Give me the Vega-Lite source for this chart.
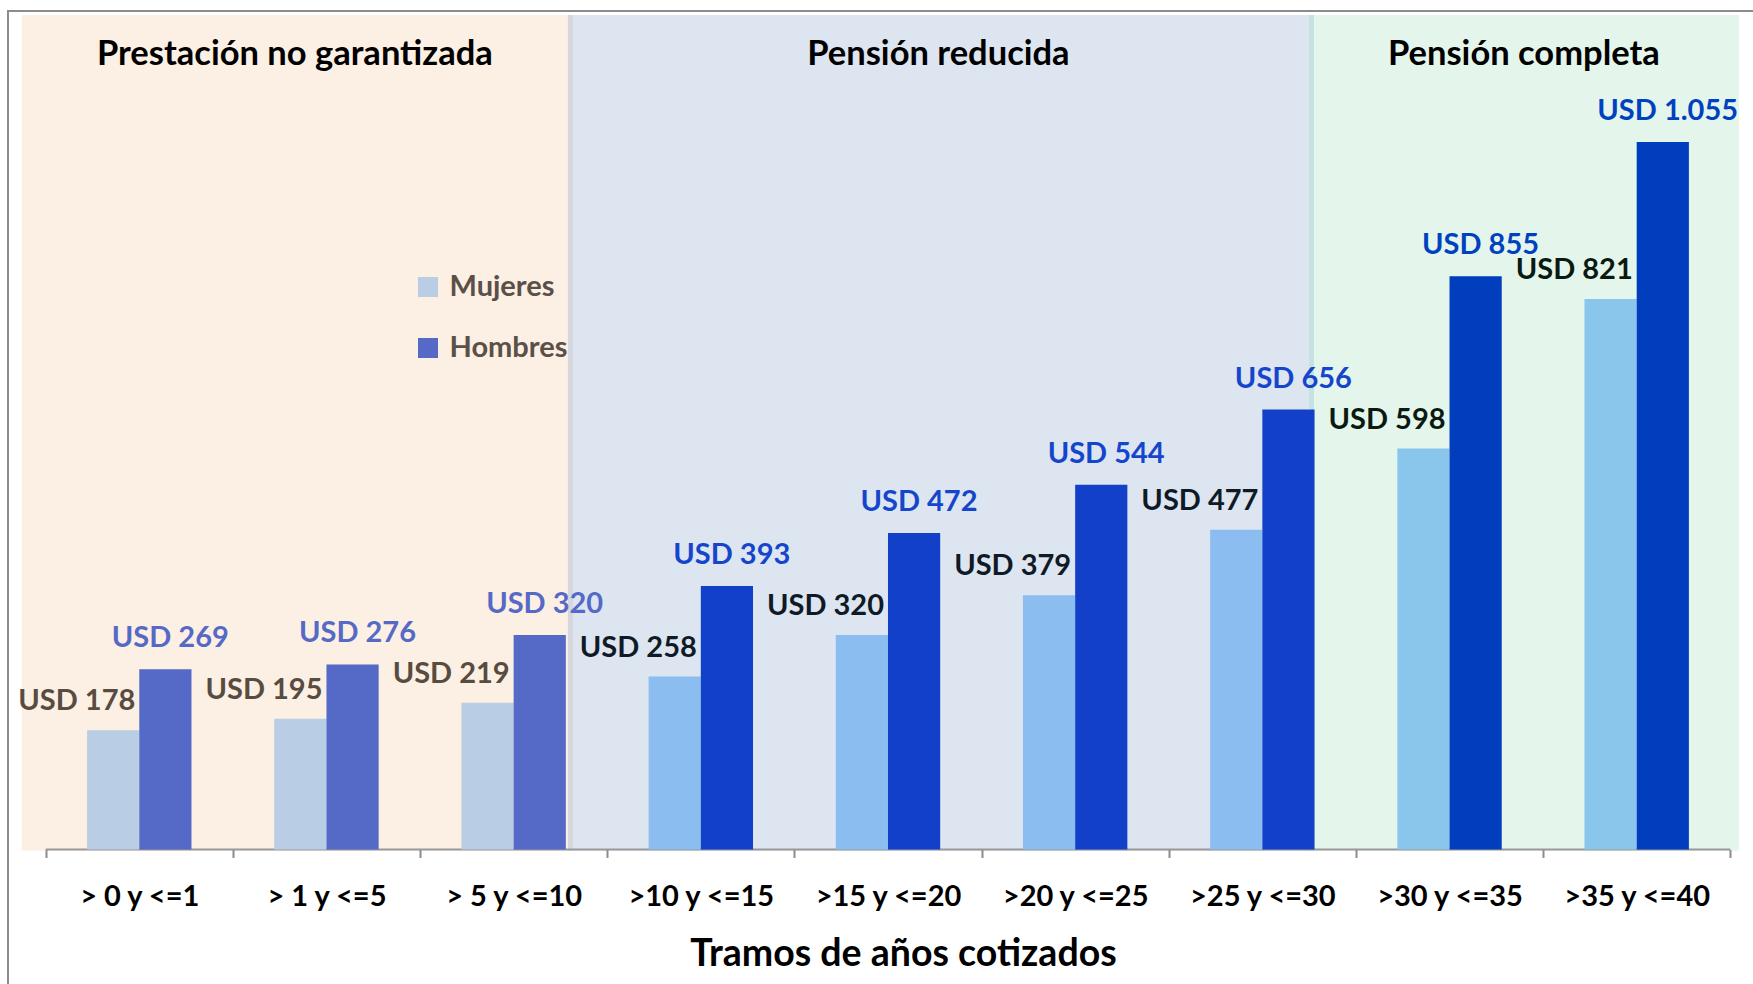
{
  "$schema": "https://vega.github.io/schema/vega-lite/v6.json",
  "autosize": {"type": "none"},
  "padding": {"left": 8, "top": 11, "right": 0, "bottom": 0},
  "width": 1747,
  "height": 975,
  "background": "white",
  "config": {"view": {"stroke": "#8C8C8C", "strokeWidth": 2}, "font": "Lato"},
  "datasets": {
    "zonas": [
      {"zona": "Prestación no garantizada", "desde": -0.128, "hasta": 2.79},
      {"zona": "Pensión reducida", "desde": 2.79, "hasta": 6.749},
      {"zona": "Pensión completa", "desde": 6.749, "hasta": 9.046}
    ],
    "pensiones": [
      {"tramo": "> 0 y <=1", "sexo": "Mujeres", "valor": 178, "zona": "Prestación no garantizada"},
      {"tramo": "> 0 y <=1", "sexo": "Hombres", "valor": 269, "zona": "Prestación no garantizada"},
      {"tramo": "> 1 y <=5", "sexo": "Mujeres", "valor": 195, "zona": "Prestación no garantizada"},
      {"tramo": "> 1 y <=5", "sexo": "Hombres", "valor": 276, "zona": "Prestación no garantizada"},
      {"tramo": "> 5 y <=10", "sexo": "Mujeres", "valor": 219, "zona": "Prestación no garantizada"},
      {"tramo": "> 5 y <=10", "sexo": "Hombres", "valor": 320, "zona": "Prestación no garantizada"},
      {"tramo": ">10 y <=15", "sexo": "Mujeres", "valor": 258, "zona": "Pensión reducida"},
      {"tramo": ">10 y <=15", "sexo": "Hombres", "valor": 393, "zona": "Pensión reducida"},
      {"tramo": ">15 y <=20", "sexo": "Mujeres", "valor": 320, "zona": "Pensión reducida"},
      {"tramo": ">15 y <=20", "sexo": "Hombres", "valor": 472, "zona": "Pensión reducida"},
      {"tramo": ">20 y <=25", "sexo": "Mujeres", "valor": 379, "zona": "Pensión reducida"},
      {"tramo": ">20 y <=25", "sexo": "Hombres", "valor": 544, "zona": "Pensión reducida"},
      {"tramo": ">25 y <=30", "sexo": "Mujeres", "valor": 477, "zona": "Pensión reducida"},
      {"tramo": ">25 y <=30", "sexo": "Hombres", "valor": 656, "zona": "Pensión reducida"},
      {"tramo": ">30 y <=35", "sexo": "Mujeres", "valor": 598, "zona": "Pensión completa"},
      {"tramo": ">30 y <=35", "sexo": "Hombres", "valor": 855, "zona": "Pensión completa"},
      {"tramo": ">35 y <=40", "sexo": "Mujeres", "valor": 821, "zona": "Pensión completa"},
      {"tramo": ">35 y <=40", "sexo": "Hombres", "valor": 1055, "zona": "Pensión completa"}
    ]
  },
  "layer": [
    {
      "data": {"name": "zonas"},
      "layer": [
        {
          "mark": {"type": "rect"},
          "encoding": {
            "x": {"field": "desde", "type": "quantitative", "scale": {"domain": [-0.2014, 9.132], "nice": false, "zero": false}, "axis": null},
            "x2": {"field": "hasta"},
            "y": {"datum": 1244.4, "type": "quantitative", "scale": {"domain": [-203.5, 1250.4], "nice": false, "zero": false}, "axis": null},
            "y2": {"datum": -1.8},
            "color": {"value": "#FCEFE3", "condition": [
              {"test": "datum.zona === 'Pensión reducida'", "value": "#DCE5F0"},
              {"test": "datum.zona === 'Pensión completa'", "value": "#E4F5EC"}
            ]}
          }
        },
        {
          "transform": [{"filter": "datum.zona !== 'Prestación no garantizada'"}],
          "mark": {"type": "rule", "strokeWidth": 5, "xOffset": 2.5},
          "encoding": {
            "x": {"field": "desde", "type": "quantitative", "scale": {"domain": [-0.2014, 9.132], "nice": false, "zero": false}, "axis": null},
            "y": {"datum": 1244.4, "type": "quantitative", "scale": {"domain": [-203.5, 1250.4], "nice": false, "zero": false}, "axis": null},
            "y2": {"datum": -1.8},
            "color": {"value": "#D5D7DD", "condition": [
              {"test": "datum.zona === 'Pensión completa'", "value": "#C6E1E1"}
            ]}
          }
        },
        {
          "transform": [{"calculate": "(datum.desde + datum.hasta) / 2", "as": "centro"}],
          "mark": {"type": "text", "align": "center", "baseline": "alphabetic", "font": "Lato", "fontWeight": "bold", "fontSize": 34.5, "color": "black"},
          "encoding": {
            "x": {"field": "centro", "type": "quantitative", "scale": {"domain": [-0.2014, 9.132], "nice": false, "zero": false}, "axis": null},
            "y": {"datum": 1170, "type": "quantitative", "scale": {"domain": [-203.5, 1250.4], "nice": false, "zero": false}, "axis": null},
            "text": {"field": "zona"}
          }
        },
        {
          "data": {"values": [{"eje": "x"}]},
          "mark": {"type": "rule", "strokeWidth": 2, "color": "#9A9A9A"},
          "encoding": {
            "x": {"datum": 0, "type": "quantitative", "scale": {"domain": [-0.2014, 9.132], "nice": false, "zero": false}, "axis": null},
            "x2": {"datum": 9},
            "y": {"datum": 0, "type": "quantitative", "scale": {"domain": [-203.5, 1250.4], "nice": false, "zero": false}, "axis": null}
          }
        }
      ]
    },
    {
      "data": {"name": "pensiones"},
      "transform": [{"calculate": "'USD ' + replace(format(datum.valor, ',d'), ',', '.')", "as": "etiqueta"}],
      "encoding": {
        "x": {
          "field": "tramo", "type": "nominal", "sort": null,
          "scale": {"paddingInner": 0, "paddingOuter": 0.1667, "align": 0.604},
          "axis": {
            "title": "Tramos de años cotizados", "orient": "bottom", "offset": -136.5,
            "domain": false, "grid": false, "tickBand": "extent", "ticks": true, "tickSize": 8,
            "tickColor": "#8C8C8C", "tickWidth": 2,
            "labelFont": "Lato", "labelFontWeight": "bold", "labelFontSize": 29, "labelColor": "black",
            "labelPadding": 25, "labelAngle": 0,
            "titleFont": "Lato", "titleFontWeight": "bold", "titleFontSize": 37.5, "titleColor": "black",
            "titleX": 895, "titleY": 116, "titleBaseline": "alphabetic", "titleAlign": "center",
            "zindex": 1
          }
        },
        "y": {"field": "valor", "type": "quantitative", "scale": {"domain": [-203.5, 1250.4], "nice": false, "zero": false}, "axis": null}
      },
      "layer": [
        {
          "mark": {"type": "bar", "opacity": 1},
          "encoding": {
            "xOffset": {"field": "sexo", "type": "nominal", "sort": ["Mujeres", "Hombres"], "scale": {"paddingInner": 0, "paddingOuter": 0.793}},
            "y2": {"datum": 0},
            "color": {
              "field": "sexo", "type": "nominal",
              "scale": {"domain": ["Mujeres", "Hombres"], "range": ["#B9CDE5", "#5569C6"]},
              "legend": {
                "title": null, "orient": "none", "legendX": 405.5, "legendY": 261.5,
                "symbolType": "square", "symbolSize": 400, "symbolStrokeWidth": 0, "symbolOpacity": 1,
                "labelFont": "Lato", "labelFontWeight": "bold", "labelFontSize": 29, "labelColor": "#5A5048",
                "labelOffset": 7, "rowPadding": 31, "padding": 0
              },
              "condition": [
                {"test": "datum.zona === 'Pensión reducida' && datum.sexo === 'Mujeres'", "value": "#8BBDF0"},
                {"test": "datum.zona === 'Pensión reducida' && datum.sexo === 'Hombres'", "value": "#1240C8"},
                {"test": "datum.zona === 'Pensión completa' && datum.sexo === 'Mujeres'", "value": "#8AC6EC"},
                {"test": "datum.zona === 'Pensión completa' && datum.sexo === 'Hombres'", "value": "#003EBE"}
              ]
            }
          }
        },
        {
          "transform": [{"filter": "datum.sexo === 'Mujeres'"}],
          "mark": {"type": "text", "align": "right", "baseline": "alphabetic", "dx": -4, "dy": -20, "font": "Lato", "fontWeight": "bold", "fontSize": 29},
          "encoding": {
            "text": {"field": "etiqueta"},
            "color": {"value": "#584B3F", "condition": [
              {"test": "datum.zona === 'Pensión reducida'", "value": "#0F1A26"},
              {"test": "datum.zona === 'Pensión completa'", "value": "#0A1A10"}
            ]}
          }
        },
        {
          "transform": [{"filter": "datum.sexo === 'Hombres'"}],
          "mark": {"type": "text", "align": "center", "baseline": "alphabetic", "dx": 31, "dy": -22, "font": "Lato", "fontWeight": "bold", "fontSize": 29},
          "encoding": {
            "text": {"field": "etiqueta"},
            "color": {"value": "#5569C6", "condition": [
              {"test": "datum.zona === 'Pensión reducida'", "value": "#1545CC"},
              {"test": "datum.zona === 'Pensión completa'", "value": "#0041C0"}
            ]}
          }
        }
      ]
    }
  ],
  "resolve": {"scale": {"x": "independent"}}
}
